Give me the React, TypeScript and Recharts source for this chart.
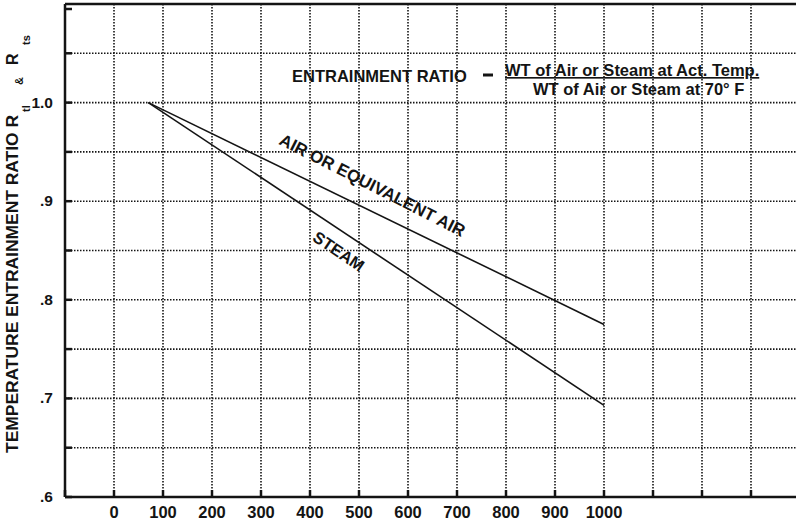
import React from "react";
import {
  LineChart,
  Line,
  XAxis,
  YAxis,
  CartesianGrid,
  ReferenceLine,
  ReferenceDot,
} from "recharts";

// temperature (°F) and entrainment ratios
const temps = [70, 1000];
const airRatio = [1.0, 0.775];
const steamRatio = [1.0, 0.693];

const xTicks = [-100, 0, 100, 200, 300, 400, 500, 600, 700, 800, 900, 1000, 1100, 1200, 1300];
const xLabels = [0, 100, 200, 300, 400, 500, 600, 700, 800, 900, 1000];
const yTicks = [0.6, 0.65, 0.7, 0.75, 0.8, 0.85, 0.9, 0.95, 1.0, 1.05, 1.1];
const yLabels: Record<string, string> = {
  "0.6": ".6",
  "0.7": ".7",
  "0.8": ".8",
  "0.9": ".9",
  "1": "1.0",
};

const chartData = temps.map((t, i) => ({
  temp: t,
  air: airRatio[i],
  steam: steamRatio[i],
}));

const FONT = "'Liberation Sans', Arial, sans-serif";
const INK = "#141414";

const XTick = (props: any) => {
  const { x, y, payload } = props;
  const show = xLabels.includes(payload.value);
  return (
    <g>
      <line x1={x} y1={y} x2={x} y2={y - 7} stroke={INK} strokeWidth={2.5} />
      {show && (
        <text x={x} y={y + 21} textAnchor="middle" fontFamily={FONT} fontWeight="bold" fontSize={16.5} fill={INK}>
          {payload.value}
        </text>
      )}
    </g>
  );
};

const YTick = (props: any) => {
  const { x, y, payload } = props;
  const label = yLabels[String(Math.round(payload.value * 100) / 100)];
  return (
    <g>
      <line x1={x} y1={y} x2={x + 7} y2={y} stroke={INK} strokeWidth={2.5} />
      {label && (
        <text x={x - 12} y={y + 5} textAnchor="end" fontFamily={FONT} fontWeight="bold" fontSize={15.5} fill={INK}>
          {label}
        </text>
      )}
    </g>
  );
};

const rotatedLabel = (text: string, angle: number, size: number) => (props: any) => {
  const { cx, cy } = props;
  return (
    <text
      x={cx}
      y={cy}
      transform={`rotate(${angle}, ${cx}, ${cy})`}
      textAnchor="middle"
      dominantBaseline="middle"
      fontFamily={FONT}
      fontWeight="bold"
      fontSize={size}
      fill={INK}
    >
      {text}
    </text>
  );
};

export default function App() {
  return (
    <div style={{ position: "fixed", left: 0, top: 0, width: 796, height: 523, overflow: "hidden", background: "#fff" }}>
      <LineChart width={800} height={523} data={chartData} margin={{ top: 4, right: 0, left: 0, bottom: 0 }}>
        <CartesianGrid stroke={INK} strokeWidth={1.6} strokeDasharray="1.5 1.5" />
        <XAxis
          dataKey="temp"
          type="number"
          domain={[-100, 1400]}
          ticks={xTicks}
          allowDataOverflow
          height={26}
          tickSize={0}
          tickMargin={0}
          tickLine={false}
          tick={XTick}
          axisLine={{ stroke: INK, strokeWidth: 2.5 }}
        />
        <YAxis
          type="number"
          domain={[0.6, 1.1]}
          ticks={yTicks}
          allowDataOverflow
          width={65}
          tickSize={0}
          tickMargin={0}
          tickLine={false}
          tick={YTick}
          axisLine={{ stroke: INK, strokeWidth: 2.5 }}
        />
        <ReferenceLine y={1.1} stroke={INK} strokeWidth={2.5} />
        <Line dataKey="air" stroke={INK} strokeWidth={1.6} dot={false} isAnimationActive={false} />
        <Line dataKey="steam" stroke={INK} strokeWidth={1.6} dot={false} isAnimationActive={false} />
        <ReferenceDot x={526} y={0.915} shape={rotatedLabel("AIR OR EQUIVALENT AIR", 27, 17)} />
        <ReferenceDot x={457} y={0.848} shape={rotatedLabel("STEAM", 34, 16.5)} />
      </LineChart>
      <svg width={796} height={523} style={{ position: "absolute", left: 0, top: 0, pointerEvents: "none" }}>
        <g transform="translate(0,453) rotate(-90)" fontFamily={FONT} fontWeight="bold" fill={INK}>
          <text x={0} y={18} fontSize={16} textLength={338} lengthAdjust="spacingAndGlyphs">
            TEMPERATURE ENTRAINMENT RATIO R
          </text>
          <text x={341} y={30} fontSize={11}>tl</text>
          <text x={368} y={23} fontSize={11}>&amp;</text>
          <text x={388} y={18} fontSize={16}>R</text>
          <text x={408} y={30} fontSize={11}>ts</text>
        </g>
        <g fontFamily={FONT} fontWeight="bold" fill={INK}>
          <text x={292} y={82} fontSize={16.5}>ENTRAINMENT RATIO</text>
          <line x1={483} y1={75} x2={493} y2={75} stroke={INK} strokeWidth={3} />
          <text x={505} y={76} fontSize={16.5} textDecoration="underline">WT of Air or Steam at Act. Temp.</text>
          <text x={533} y={95} fontSize={16.5}>WT of Air or Steam at 70° F</text>
        </g>
      </svg>
    </div>
  );
}
